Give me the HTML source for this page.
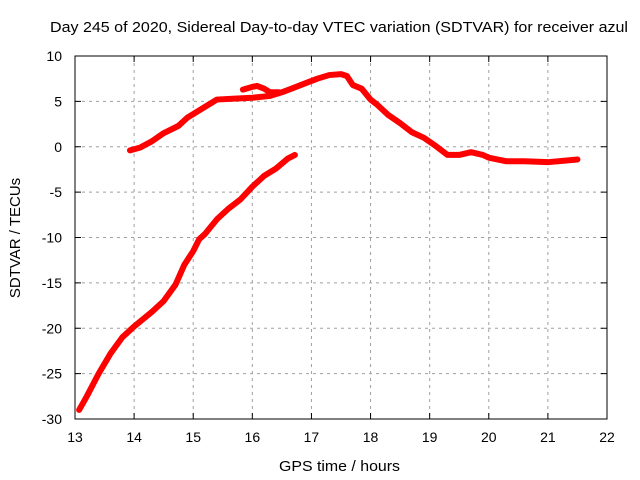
<!DOCTYPE html>
<html><head><meta charset="utf-8"><style>
body{margin:0;background:#fff}
svg{display:block;font-family:"Liberation Sans",sans-serif}
</style></head><body>
<svg id="chart" width="640" height="480" viewBox="0 0 640 480">
<text x="50" y="32" font-size="15" textLength="578" lengthAdjust="spacingAndGlyphs" fill="#000">Day 245 of 2020, Sidereal Day-to-day VTEC variation (SDTVAR) for receiver azul</text>
<text x="279" y="471" font-size="15" textLength="121" lengthAdjust="spacingAndGlyphs">GPS time / hours</text>
<text transform="translate(20,238) rotate(-90)" font-size="15" text-anchor="middle">SDTVAR / TECUs</text>
<g id="grid"></g>
<g id="series"></g>
<rect x="75" y="56" width="532" height="363" fill="none" stroke="#000" stroke-width="1"/>
</svg>
<script>
const xTicks=[13,14,15,16,17,18,19,20,21,22];
const yTicks=[10,5,0,-5,-10,-15,-20,-25,-30];
const mainX=[13.93,14.1,14.3,14.5,14.75,14.9,15.1,15.3,15.4,15.7,16.0,16.3,16.5,16.7,16.9,17.1,17.3,17.5,17.6,17.7,17.85,18.0,18.1,18.3,18.5,18.7,18.9,19.1,19.3,19.5,19.7,19.9,20.0,20.3,20.6,21.0,21.5];
const mainY=[-0.4,-0.1,0.6,1.5,2.3,3.2,4.0,4.8,5.2,5.3,5.4,5.6,6.0,6.5,7.0,7.5,7.9,8.0,7.8,6.8,6.4,5.2,4.7,3.5,2.6,1.6,1.0,0.1,-0.9,-0.9,-0.6,-0.9,-1.2,-1.6,-1.6,-1.7,-1.4];
const loopX=[15.84,16.0,16.08,16.2,16.3,16.45];
const loopY=[6.3,6.6,6.7,6.4,6.0,6.0];
const lowX=[13.07,13.2,13.4,13.6,13.8,14.0,14.3,14.5,14.7,14.85,15.0,15.1,15.2,15.4,15.6,15.8,16.0,16.2,16.4,16.6,16.72];
const lowY=[-29.0,-27.5,-25,-22.8,-21,-19.8,-18.2,-17,-15.2,-13,-11.5,-10.2,-9.6,-8,-6.8,-5.8,-4.4,-3.2,-2.4,-1.3,-0.9];
const X0=75,X1=607,Y0=419,Y1=56;
const sx=v=>X0+(v-13)/(22-13)*(X1-X0);
const sy=v=>Y0-(v+30)/40*(Y0-Y1);
const NS="http://www.w3.org/2000/svg";
const grid=document.getElementById('grid');
function mk(t,a){const e=document.createElementNS(NS,t);for(const k in a)e.setAttribute(k,a[k]);return e;}
xTicks.forEach(t=>{
  const x=sx(t);
  if(t>13&&t<22){const l=mk('line',{x1:x,x2:x,y1:Y1,y2:Y0,stroke:'#a0a0a0','stroke-dasharray':'3,4'});
  
  grid.appendChild(l);}
  grid.appendChild(mk('line',{x1:x,x2:x,y1:Y0,y2:Y0-6,stroke:'#000'}));
  grid.appendChild(mk('line',{x1:x,x2:x,y1:Y1,y2:Y1+6,stroke:'#000'}));
  const tx=mk('text',{x:x,y:Y0+23,'font-size':14,'text-anchor':'middle'});tx.textContent=t;
  
  grid.appendChild(tx);
});
yTicks.forEach(t=>{
  const y=sy(t);
  if(t>-30&&t<10){const l=mk('line',{x1:X0,x2:X1,y1:y,y2:y,stroke:'#a0a0a0','stroke-dasharray':'3,4'});
  
  grid.appendChild(l);}
  grid.appendChild(mk('line',{x1:X0,x2:X0+6,y1:y,y2:y,stroke:'#000'}));
  grid.appendChild(mk('line',{x1:X1,x2:X1-6,y1:y,y2:y,stroke:'#000'}));
  const tx=mk('text',{x:X0-13,y:y+5,'font-size':14,'text-anchor':'end'});tx.textContent=t;
  
  grid.appendChild(tx);
});
const sg=document.getElementById('series');
function draw(xs,ys,name){
  const p=mk('polyline',{points:xs.map((x,i)=>sx(x)+','+sy(ys[i])).join(' '),fill:'none',stroke:'#ff0000','stroke-width':6,'stroke-linejoin':'round','stroke-linecap':'round'});
  
  
  sg.appendChild(p);
}
draw(mainX,mainY,'sdtvar-main-trace');
draw(loopX,loopY,'sdtvar-loop-trace');
draw(lowX,lowY,'sdtvar-lower-trace');
</script>
</body></html>
